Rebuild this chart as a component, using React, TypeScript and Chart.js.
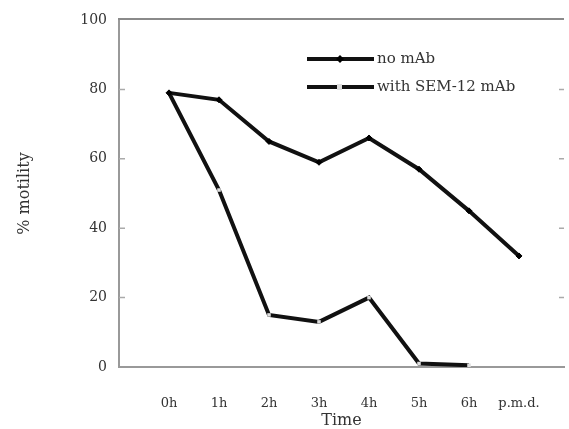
import { useEffect, useRef } from 'react';
import { Chart, registerables } from 'chart.js';

Chart.register(...registerables);

const categories = ['0h', '1h', '2h', '3h', '4h', '5h', '6h', 'p.m.d.'];
const noMab = [79, 77, 65, 59, 66, 57, 45, 32];
const withSem = [79, 51, 15, 13, 20, 1, 0.5];
const yTickValues = [0, 20, 40, 60, 80, 100];
const seriesLabels = ['no mAb', 'with SEM-12 mAb'];

const FONT = 'DejaVu Serif';
const TEXT = '#333';

export default function App() {
  const ref = useRef<HTMLCanvasElement>(null);

  useEffect(() => {
    const canvas = ref.current!;
    const frame = {
      id: 'frame',
      afterDraw(chart: any) {
        const { ctx, chartArea } = chart;
        const ys = chart.scales.y;
        ctx.save();
        ctx.strokeStyle = '#8a8a8a';
        ctx.lineWidth = 2;
        ctx.beginPath();
        ctx.moveTo(chartArea.left - 1, chartArea.top - 1);
        ctx.lineTo(chartArea.right, chartArea.top - 1);
        ctx.stroke();
        ctx.strokeStyle = '#aaa';
        ctx.lineWidth = 1.5;
        for (const v of yTickValues) {
          if (v === 0 || v === 100) continue;
          const y = ys.getPixelForValue(v);
          ctx.beginPath();
          ctx.moveTo(chartArea.left, y);
          ctx.lineTo(chartArea.left + 6, y);
          ctx.moveTo(chartArea.right - 5, y);
          ctx.lineTo(chartArea.right, y);
          ctx.stroke();
        }
        // legend
        const items = [
          { y: 59, style: 'diamond' },
          { y: 87, style: 'square' },
        ];
        items.forEach((it, i) => {
          ctx.strokeStyle = '#111';
          ctx.lineWidth = 4;
          ctx.beginPath();
          ctx.moveTo(307, it.y);
          ctx.lineTo(374, it.y);
          ctx.stroke();
          if (it.style === 'diamond') {
            ctx.fillStyle = '#000';
            ctx.beginPath();
            ctx.moveTo(340, it.y - 4);
            ctx.lineTo(344, it.y);
            ctx.lineTo(340, it.y + 4);
            ctx.lineTo(336, it.y);
            ctx.closePath();
            ctx.fill();
          } else {
            ctx.fillStyle = '#ddd';
            ctx.fillRect(337, it.y - 3, 5, 6);
          }
          ctx.fillStyle = TEXT;
          ctx.font = `15px "${FONT}"`;
          ctx.textBaseline = 'middle';
          ctx.textAlign = 'left';
          ctx.fillText(seriesLabels[i], 377, it.y);
        });
        ctx.restore();
      },
    };

    const chart = new Chart(canvas, {
      type: 'line',
      data: {
        datasets: [
          {
            label: seriesLabels[0],
            data: noMab.map((v, i) => ({ x: i, y: v })),
            borderColor: '#111',
            borderWidth: 4,
            borderJoinStyle: 'miter',
            pointStyle: 'rectRot',
            pointRadius: 3,
            pointBackgroundColor: '#000',
            pointBorderColor: '#000',
            pointBorderWidth: 1,
            tension: 0,
          },
          {
            label: seriesLabels[1],
            data: withSem.map((v, i) => ({ x: i, y: v })),
            borderColor: '#111',
            borderWidth: 4,
            borderJoinStyle: 'miter',
            pointStyle: 'rect',
            pointRadius: 2.5,
            pointBackgroundColor: '#ddd',
            pointBorderColor: '#ddd',
            pointBorderWidth: 0,
            tension: 0,
          },
        ],
      },
      options: {
        responsive: false,
        animation: false,
        layout: { padding: { left: 0, right: 2, top: 20, bottom: 0 } },
        plugins: { legend: { display: false }, tooltip: { enabled: false } },
        scales: {
          x: {
            type: 'linear',
            min: -1,
            max: 7.9,
            afterBuildTicks: (s: any) => {
              s.ticks = categories.map((_, i) => ({ value: i }));
            },
            afterFit: (s: any) => {
              s.height = 62;
            },
            ticks: {
              callback: (v: any) => categories[v] ?? '',
              padding: 21,
              font: { family: FONT, size: 13 },
              color: TEXT,
              maxRotation: 0,
              autoSkip: false,
            },
            grid: { display: false },
            border: { display: true, color: '#999', width: 2 },
            title: {
              display: true,
              text: 'Time',
              font: { family: FONT, size: 16, lineHeight: 1 },
              color: TEXT,
              padding: 0,
            },
          },
          y: {
            min: 0,
            max: 100,
            afterBuildTicks: (s: any) => {
              s.ticks = yTickValues.map((v) => ({ value: v }));
            },
            afterFit: (s: any) => {
              s.width = 119;
            },
            ticks: {
              padding: 4,
              font: { family: FONT, size: 14 },
              color: TEXT,
            },
            grid: { display: false },
            border: { display: true, color: '#999', width: 2 },
            title: {
              display: true,
              text: '% motility',
              font: { family: FONT, size: 16, lineHeight: 1 },
              color: TEXT,
              padding: { top: 17, bottom: 0 },
            },
          },
        },
      },
      plugins: [frame],
    });
    return () => chart.destroy();
  }, []);

  return (
    <div style={{ position: 'absolute', left: 0, top: 0, width: 569, height: 429 }}>
      <canvas ref={ref} width={569} height={429} style={{ display: 'block' }} />
    </div>
  );
}
